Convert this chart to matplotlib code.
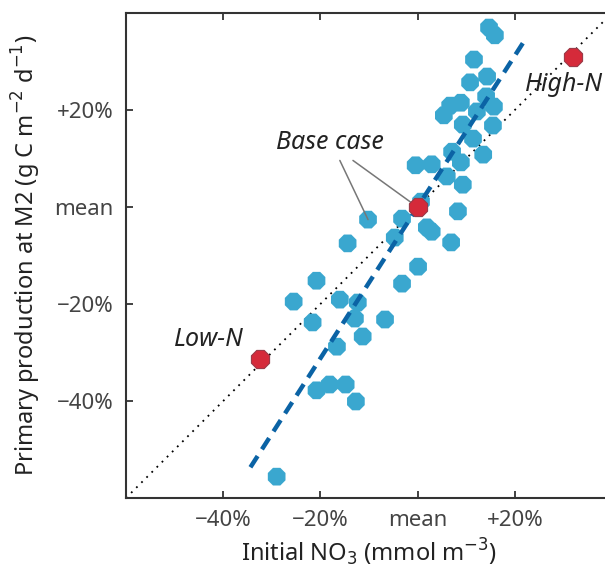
import matplotlib
matplotlib.use("Agg")
import matplotlib.pyplot as plt
import numpy as np

# sensitivity runs: % change of initial NO3 vs % change of primary production
nitrate_pct = [14.7, 15.9, 11.6, 10.8, 14.3, 6.7, 8.9, 5.4, 14.1, 15.7,
               12.2, 9.3, 15.5, 11.4, 13.5, 7.1, 8.9, 2.9, -0.4, 6.0,
               9.3, 8.3, 0.7, -3.2, 1.9, 2.9, -4.7, 6.9, -10.2, -14.4,
               0.1, -3.2, -6.7, -20.8, -25.5, -16.0, -12.3, -12.9, -11.3, -21.6,
               -16.6, -20.8, -18.1, -14.8, -12.7, -29.0]
production_pct = [37.0, 35.4, 30.4, 25.7, 26.9, 20.9, 21.5, 18.9, 22.8, 20.7,
                  19.7, 17.0, 16.8, 14.1, 10.8, 11.4, 9.2, 8.8, 8.6, 6.3,
                  4.6, -0.9, 1.1, -2.4, -4.2, -5.1, -6.3, -7.3, -2.6, -7.5,
                  -12.3, -15.8, -23.2, -15.2, -19.5, -19.1, -19.7, -23.0, -26.7, -23.8,
                  -28.8, -37.8, -36.6, -36.6, -40.1, -55.6]

# named cases
case_names = ["Low-N", "Base case", "High-N"]
case_nitrate = [-32.4, 0.0, 31.9]
case_production = [-31.4, 0.0, 31.0]

# linear fit through the runs
fit_slope = 1.56
fit_intercept = 0.0
fit_xrange = [-34.4, 21.8]

lims = [-60, 40]
ticks_x = [-40, -20, 0, 20]
ticks_y = [-40, -20, 0, 20]
tick_labels = ["\u221240%", "\u221220%", "mean", "+20%"]

plt.rcParams["font.family"] = ["Noto Sans", "DejaVu Sans"]

fig = plt.figure(figsize=(6.05, 5.74), dpi=100)
ax = fig.add_axes([126 / 605, 76 / 574, 486 / 605, 485 / 574])

ax.plot(lims, lims, color="black", lw=1.3, ls=(0, (1, 3)), zorder=1)

ax.scatter(nitrate_pct, production_pct, s=190, marker="8", color="#3aa7cf",
           edgecolors="none", zorder=2)

fx = np.array(fit_xrange)
ax.plot(fx, fit_slope * fx + fit_intercept, color="#0b63a5", lw=3.2,
        dashes=(3, 1.8), zorder=3)

# base case pointers
ax.annotate("", xy=(-10.2, -2.6), xytext=(-16.0, 9.6),
            arrowprops=dict(arrowstyle="-", color="#777", lw=1.1,
                            shrinkA=0, shrinkB=0), zorder=3)
ax.annotate("", xy=(-0.6, 0.4), xytext=(-13.3, 9.6),
            arrowprops=dict(arrowstyle="-", color="#777", lw=1.1,
                            shrinkA=0, shrinkB=0), zorder=3)

ax.scatter(case_nitrate, case_production, s=200, marker="8", color="#d52a3a",
           edgecolors="#9a3a48", linewidths=0.8, zorder=4)

ax.text(-18.1, 13.4, case_names[1], style="italic", fontsize=18,
        color="#222", ha="center", va="center")
ax.text(-43.0, -27.3, case_names[0], style="italic", fontsize=18,
        color="#222", ha="center", va="center")
ax.text(30.2, 25.3, case_names[2], style="italic", fontsize=18,
        color="#222", ha="center", va="center")

ax.set_xlim(lims)
ax.set_ylim(lims)
ax.set_xticks(ticks_x)
ax.set_xticklabels(tick_labels)
ax.set_yticks(ticks_y)
ax.set_yticklabels(tick_labels)
ax.tick_params(direction="in", length=5, width=1.3, colors="#333",
               top=True, right=True, labelsize=16, labelcolor="#444", pad=9)

for sp in ax.spines.values():
    sp.set_color("#333")
    sp.set_linewidth(1.5)

ax.set_xlabel("Initial NO$_3$ (mmol m$^{-3}$)", fontsize=17, color="#222",
              labelpad=4)
ax.set_ylabel("Primary production at M2 (g C m$^{-2}$ d$^{-1}$)", fontsize=17,
              color="#222", labelpad=8)

fig.savefig("out.png", dpi=100)
